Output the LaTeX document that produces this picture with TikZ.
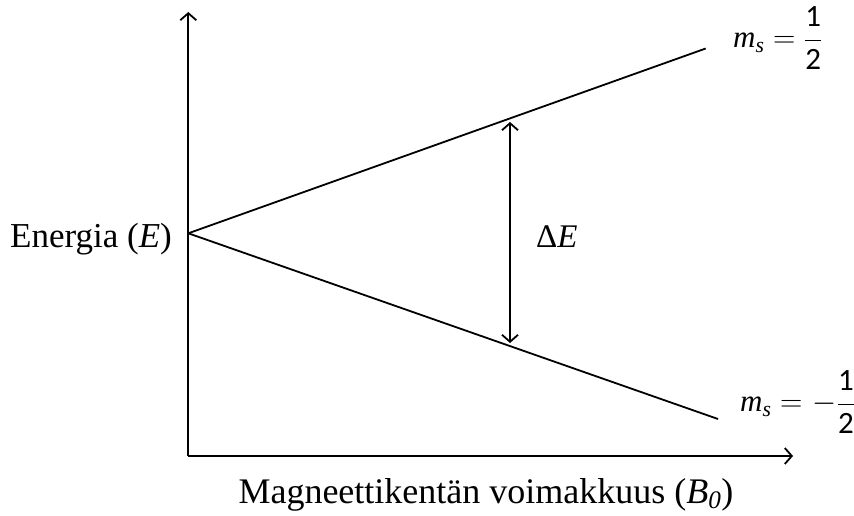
\RequirePackage{fix-cm}
\documentclass[tikz,border=0pt]{standalone}
\usepackage{amsmath}
\usepackage{fontspec}
\setmainfont{Liberation Serif}
\newfontfamily\digitfont{Carlito}
\usetikzlibrary{arrows.meta}
\newcommand{\msfrac}{\dfrac{\hbox{\digitfont 1}}{\hbox{\digitfont 2}}}
\newcommand{\mssym}{\hbox{\textit{m}\textsubscript{\textit{s}}}}
\tikzset{
  axisline/.style={line width=1.8pt, -{Straight Barb[length=7pt,width=16pt,line width=1.8pt]}},
  levelline/.style={line width=1.8pt},
  gaparrow/.style={line width=1.8pt, {Straight Barb[length=7pt,width=16pt,line width=1.8pt]}-{Straight Barb[length=7pt,width=16pt,line width=1.8pt]}},
  bigtext/.style={font=\fontsize{35}{42}\selectfont, inner sep=0pt},
  mslabel/.style={font=\fontsize{31}{36}\selectfont, inner sep=0pt, anchor=west}
}
\begin{document}
\begin{tikzpicture}[x=1pt,y=-1pt]
\useasboundingbox (0,0) rectangle (854,516);
\coordinate (O) at (188.3,233.3);
\coordinate (ytop) at (188.3,12);
\coordinate (corner) at (188.3,456);
\coordinate (xend) at (793,456);
\coordinate (upend) at (705.7,48.5);
\coordinate (lowend) at (718,419);
\coordinate (dtop) at (510,122);
\coordinate (dbot) at (510,343);
\draw[axisline] (corner) -- (ytop);
\draw[axisline] (corner) -- (xend);
\draw[levelline] (O) -- (upend);
\draw[levelline] (O) -- (lowend);
\draw[gaparrow] (dbot) -- (dtop);
\node[bigtext, font=\fontsize{33}{40}\selectfont, anchor=base west] (de) at (536,247) {Δ\textit{E}};
\node[bigtext, anchor=base west] (en) at (10,247) {Energia (\textit{E})};
\node[bigtext, font=\fontsize{36}{42}\selectfont, anchor=base] (mg) at (486,503) {Magneettikentän voimakkuus (\textit{B\textsubscript{0}})};
\node[mslabel] (msup) at (733,38) {$\mssym=\msfrac$};
\node[mslabel] (msdn) at (740,402) {$\mssym=\mkern1mu{-}\mkern0mu\msfrac$};
\end{tikzpicture}
\end{document}
